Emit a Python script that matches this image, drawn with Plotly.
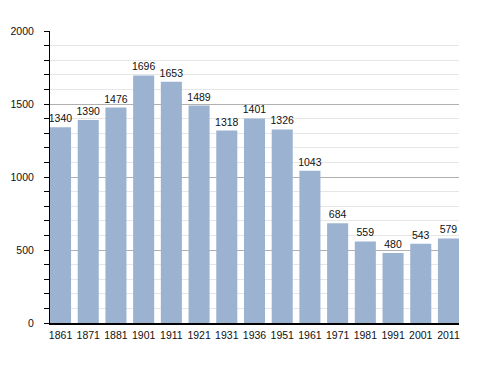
import plotly.graph_objects as go

years = ["1861", "1871", "1881", "1901", "1911", "1921", "1931", "1936", "1951", "1961", "1971", "1981", "1991", "2001", "2011"]
population = [1340, 1390, 1476, 1696, 1653, 1489, 1318, 1401, 1326, 1043, 684, 559, 480, 543, 579]
y_ticks = [0, 500, 1000, 1500, 2000]

xpos = list(range(len(years)))
bargap = 0.24

fig = go.Figure(go.Bar(
    x=xpos, y=population,
    marker=dict(color="#9bb3d1", line=dict(width=0)),
    text=[str(v) for v in population],
    textposition="outside",
    constraintext="none",
    textangle=0,
    textfont=dict(family="Liberation Sans, Arial, sans-serif", size=10.5, color="#111"),
    cliponaxis=False,
))

# page body has an 8px default margin; compensate
fig.update_layout(
    width=480, height=365,
    margin=dict(l=42, r=29, t=23, b=50, autoexpand=False),
    plot_bgcolor="white", paper_bgcolor="white",
    bargap=bargap,
    showlegend=False,
    font=dict(family="Liberation Sans, Arial, sans-serif", size=10.5, color="#111"),
)
fig.update_xaxes(
    tickvals=xpos, ticktext=years,
    range=[-0.5 + bargap / 2, len(years) - 0.5 - bargap / 2],
    showline=True, linecolor="black", linewidth=1.5,
    ticks="", showgrid=False, zeroline=False, automargin=False,
    ticklabelstandoff=2,
)
fig.update_yaxes(
    range=[0, 2000], tickvals=y_ticks,
    showline=True, linecolor="black", linewidth=1,
    ticks="outside", ticklen=5, tickcolor="black",
    showgrid=True, gridcolor="#b0b0b0", gridwidth=1,
    zeroline=False, automargin=False,
    minor=dict(dtick=100, showgrid=True, gridcolor="#e6e6e6", ticks="outside", ticklen=5, tickcolor="black"),
    ticklabelstandoff=8,
)

fig.write_html("out.html")
